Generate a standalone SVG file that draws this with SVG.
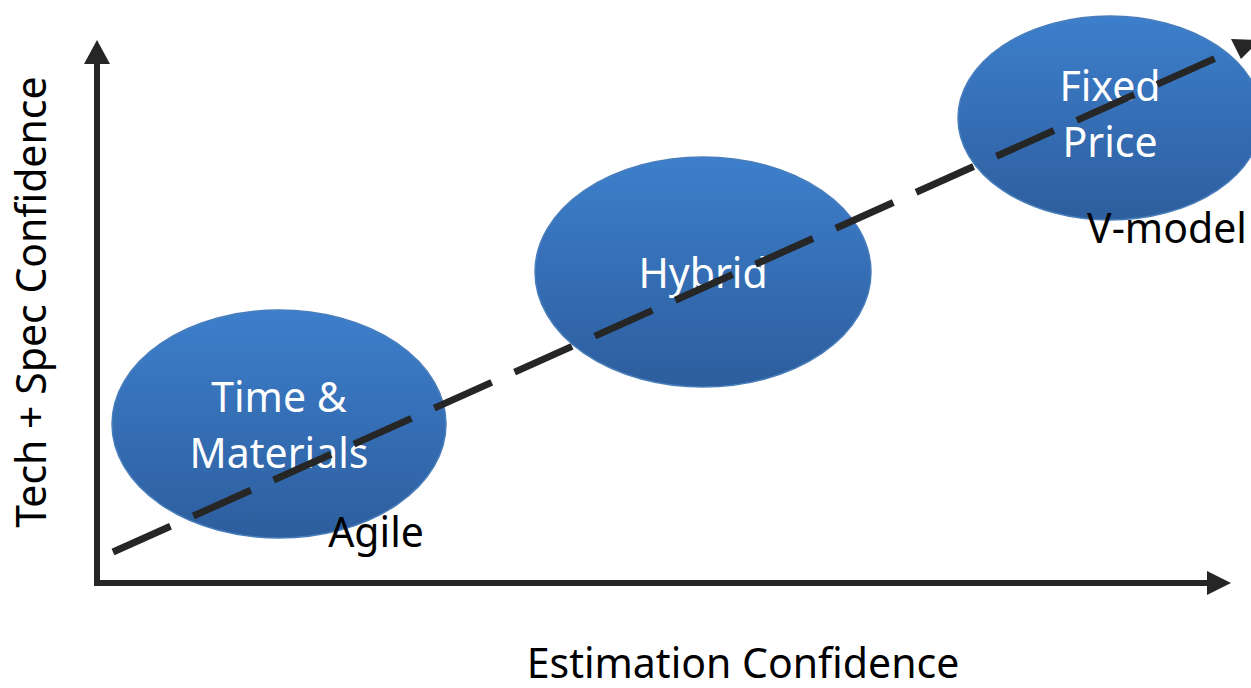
<svg xmlns="http://www.w3.org/2000/svg" width="1251" height="688" viewBox="0 0 1251 688">
<style>
.lbl{font-family:"Noto Sans","Liberation Sans",sans-serif;font-size:41px;text-anchor:middle}
.w{fill:#ffffff}
.b{fill:#000000}
.ell{fill:url(#g);stroke:#4A7EBB;stroke-width:1.5}
.axis{stroke:#262626;stroke-width:6;fill:none}
.head{fill:#262626}
.dash{stroke:#262626;stroke-width:7;fill:none;stroke-dasharray:63 25}
</style>
<defs>
<linearGradient id="g" x1="0" y1="0" x2="0" y2="1">
<stop offset="0" stop-color="#3D7FCC"/>
<stop offset="1" stop-color="#2D5E9E"/>
</linearGradient>
</defs>
<rect width="1251" height="688" fill="#ffffff"/>
<g id="node-tm">
<ellipse class="ell" cx="279" cy="424" rx="167" ry="114"/>
<text class="lbl w" x="279" y="412">Time &amp;</text>
<text class="lbl w" x="279" y="468">Materials</text>
</g>
<g id="node-hybrid">
<ellipse class="ell" cx="703" cy="272" rx="168" ry="115"/>
<text class="lbl w" x="703" y="288">Hybrid</text>
</g>
<g id="node-fixed">
<ellipse class="ell" cx="1110" cy="118" rx="152" ry="102"/>
<text class="lbl w" x="1110" y="101">Fixed</text>
<text class="lbl w" x="1110" y="157">Price</text>
</g>
<g id="labels">
<text class="lbl b" x="376" y="547">Agile</text>
<text class="lbl b" x="1167" y="243">V-model</text>
<text class="lbl b" x="743" y="678">Estimation Confidence</text>
<text class="lbl b" transform="translate(46,302) rotate(-90)" x="0" y="0">Tech + Spec Confidence</text>
</g>
<g id="connectors">
<line class="axis" x1="97" y1="586" x2="97" y2="62"/>
<polygon class="head" points="97,40 84,64 110,64"/>
<line class="axis" x1="94" y1="583" x2="1209" y2="583"/>
<polygon class="head" points="1231,583 1207,571 1207,595"/>
<line class="dash" x1="113" y1="552" x2="1236" y2="49"/>
<polygon class="head" points="1231,39 1241,59 1260,40"/>
</g>
</svg>
